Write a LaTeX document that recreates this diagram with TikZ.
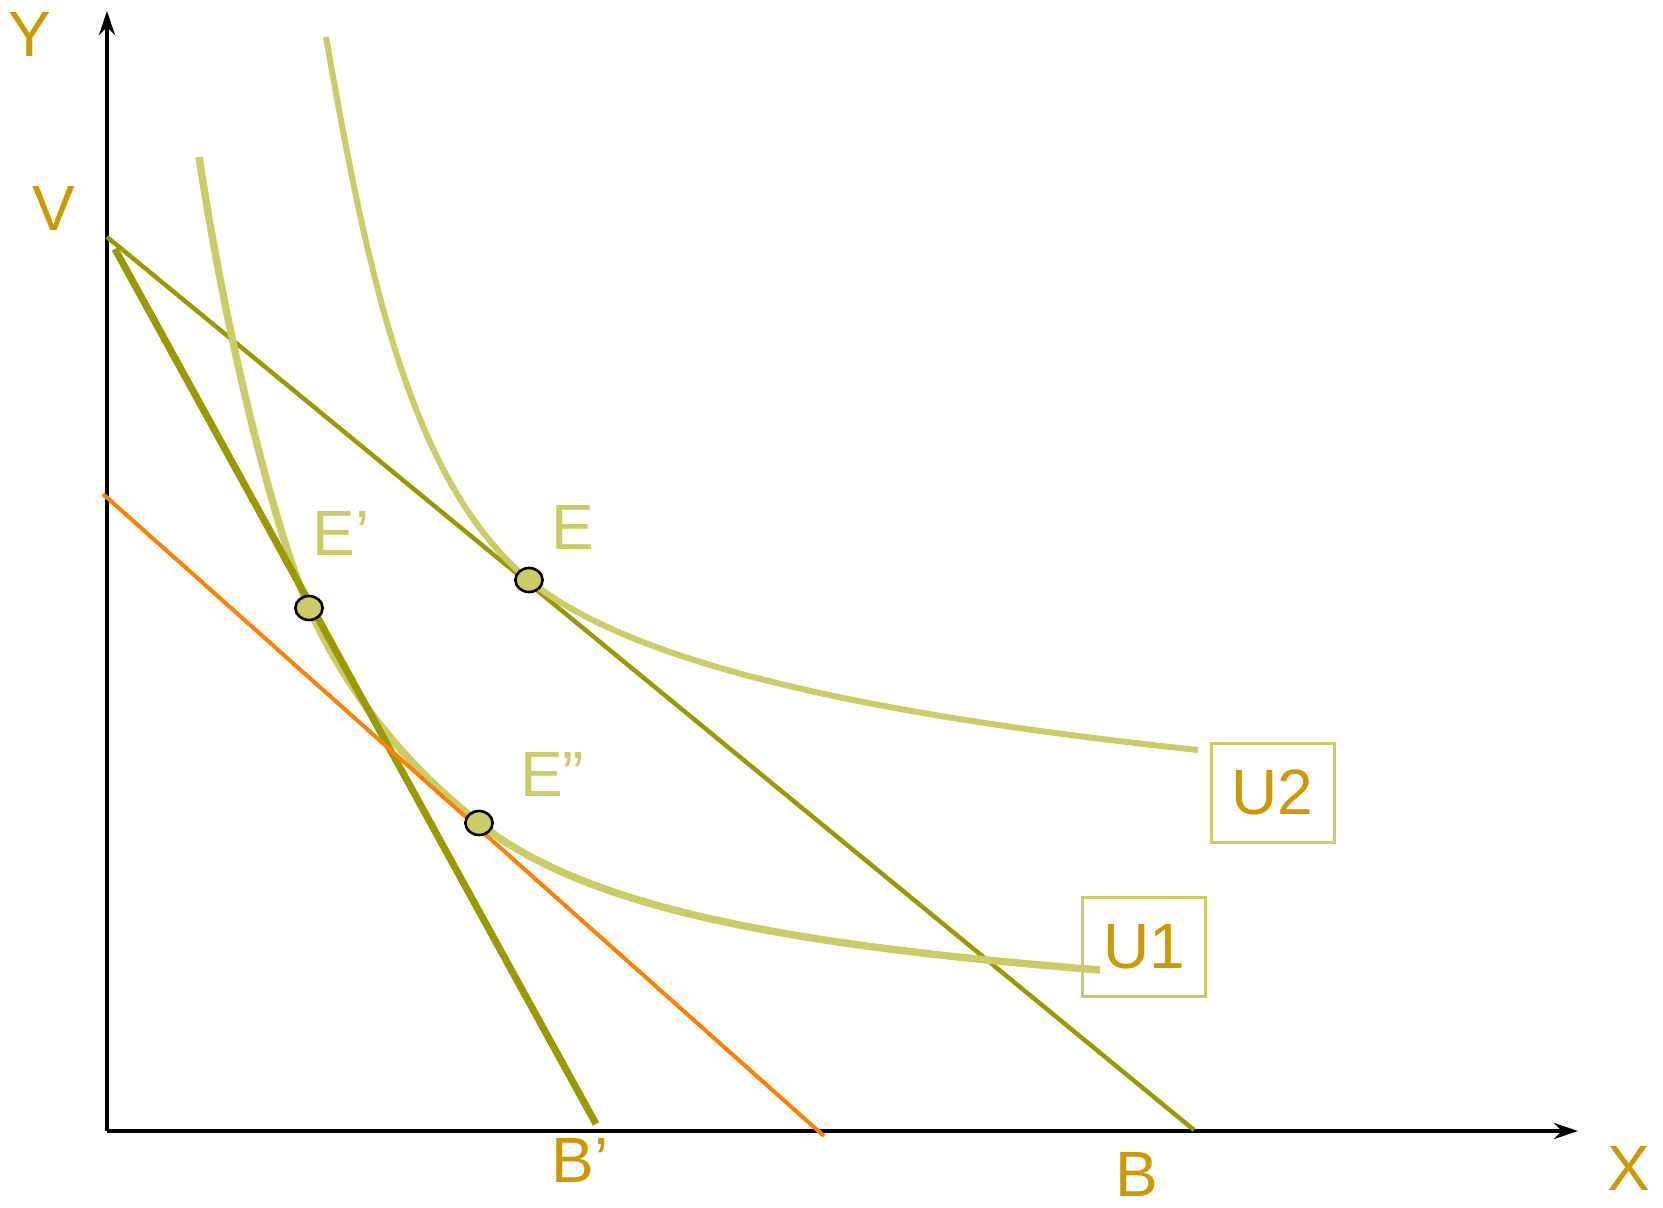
\documentclass[tikz,border=0pt]{standalone}
\usepackage{fontspec}
\setmainfont{Liberation Sans}
\usetikzlibrary{arrows.meta,shapes.geometric}
\definecolor{labelGold}{HTML}{CC9900}
\definecolor{curveLight}{HTML}{CCCC66}
\definecolor{budgetOlive}{HTML}{999900}
\definecolor{budgetOrange}{HTML}{FF8000}

\begin{document}
\begin{tikzpicture}[
    x=0.5pt, y=-0.5pt,
    lbl/.style={text=labelGold, inner sep=0pt, font=\fontsize{32pt}{36pt}\selectfont},
    elbl/.style={lbl, text=curveLight},
    ubox/.style={lbl, draw=curveLight, line width=1.5pt, minimum width=61.5pt, minimum height=49.5pt},
    axis/.style={-{Stealth[length=12pt,width=8pt]}, line width=2pt},
    budget/.style={draw=budgetOlive, line width=2.2pt},
    indiff/.style={draw=curveLight},
    eqpt/.style={ellipse, draw=black, fill=curveLight, line width=1.3pt, minimum width=13.6pt, minimum height=12pt, inner sep=0pt}
  ]
    \useasboundingbox (0,0) rectangle (1663,1208);

    % axes
    \coordinate (origin) at (107,1131);
    \coordinate (ytop) at (107,11);
    \coordinate (xend) at (1578,1131);
    \draw[axis] (origin) -- (ytop);
    \draw[axis] (origin) -- (xend);
    \node[lbl] (lblY) at (30,34) {Y};
    \node[lbl] (lblV) at (54,208) {V};
    \node[lbl] (lblX) at (1629,1168) {X};
    \node[lbl] (lblB) at (1137,1174) {B};
    \node[lbl] (lblBp) at (580,1160) {B’};

    % budget lines
    \coordinate (v) at (107,237);
    \coordinate (b) at (1194,1130);
    \coordinate (v2) at (115,249);
    \coordinate (bp) at (596,1124);
    \coordinate (o1) at (103,494);
    \coordinate (o2) at (824,1136);
    \draw[budget] (v) -- (b);

    % equilibrium positions
    \coordinate (pe) at (529,580);
    \coordinate (pep) at (309,608);
    \coordinate (pepp) at (479,823);

    % indifference curves
    \draw[indiff, line width=3.7pt] (199,157) .. controls (234,384) and (284,553) .. (pep)
      .. controls (359,718) and (429,783) .. (pepp)
      .. controls (589,911) and (800,946) .. (1100,970);
    \draw[indiff, line width=3pt] (326,37) .. controls (366,265) and (409,482) .. (pe)
      .. controls (639,670) and (898,718) .. (1198,750);

    \draw[budget, line width=3.5pt] (v2) -- (bp);
    \draw[draw=budgetOrange, line width=2pt] (o1) -- (o2);

    % equilibrium points
    \node[eqpt] (e) at (pe) {};
    \node[eqpt] (ep) at (pep) {};
    \node[eqpt] (epp) at (pepp) {};
    \node[elbl] (lblE) at (573,527) {E};
    \node[elbl] (lblEp) at (341,533) {E’};
    \node[elbl] (lblEpp) at (552,774) {E”};

    % curve labels
    \node[ubox] (u2) at (1272.5,792.5) {U2};
    \node[ubox] (u1) at (1144,946.5) {U1};
  \end{tikzpicture}
\end{document}
